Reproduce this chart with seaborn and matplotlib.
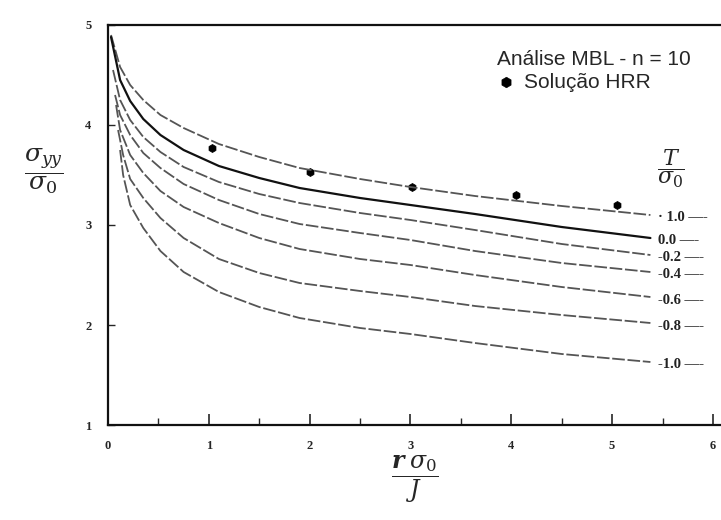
import matplotlib
matplotlib.use('Agg')
import matplotlib.pyplot as plt
import seaborn as sns
import pandas as pd
from matplotlib.ticker import MultipleLocator

# T/sigma0 levels and the curves
levels = ['1.0', '0.0', '-0.2', '-0.4', '-0.6', '-0.8', '-1.0']
# first two points of each curve (they start at slightly different r)
x_near = [[0.03, 0.12], [0.03, 0.12], [0.05, 0.12], [0.07, 0.12],
          [0.08, 0.12], [0.10, 0.15], [0.12, 0.15]]
y_near = [[4.90, 4.58], [4.88, 4.45], [4.55, 4.25], [4.30, 4.10],
          [4.20, 3.95], [3.95, 3.70], [3.75, 3.50]]
x_common = [0.22, 0.35, 0.52, 0.75, 1.1, 1.5, 1.9, 2.5, 3.0, 3.64, 4.5, 5.38]
y_t10 = [4.40, 4.25, 4.10, 3.97, 3.81, 3.68, 3.57, 3.46, 3.38, 3.29, 3.19, 3.10]
y_t00 = [4.24, 4.06, 3.90, 3.75, 3.59, 3.47, 3.37, 3.27, 3.20, 3.11, 2.98, 2.87]
y_tm02 = [4.05, 3.88, 3.73, 3.58, 3.43, 3.31, 3.22, 3.12, 3.05, 2.95, 2.81, 2.70]
y_tm04 = [3.90, 3.72, 3.57, 3.41, 3.25, 3.11, 3.01, 2.92, 2.85, 2.74, 2.62, 2.53]
y_tm06 = [3.70, 3.52, 3.34, 3.18, 3.02, 2.87, 2.76, 2.66, 2.60, 2.50, 2.38, 2.28]
y_tm08 = [3.46, 3.27, 3.07, 2.87, 2.66, 2.52, 2.42, 2.34, 2.28, 2.19, 2.10, 2.02]
y_tm10 = [3.20, 2.97, 2.74, 2.53, 2.33, 2.18, 2.07, 1.97, 1.91, 1.82, 1.71, 1.63]
curves = [y_t10, y_t00, y_tm02, y_tm04, y_tm06, y_tm08, y_tm10]

# HRR solution points
hrr_x = [1.03, 2.0, 3.02, 4.05, 5.05]
hrr_y = [3.77, 3.53, 3.38, 3.30, 3.20]

rows = []
for lev, xn, yn, yv in zip(levels, x_near, y_near, curves):
    for xx, yy in zip(xn + x_common, yn + yv):
        rows.append((lev, xx, yy))
df = pd.DataFrame(rows, columns=['T', 'x', 'y'])
hrr = pd.DataFrame({'x': hrr_x, 'y': hrr_y})

sns.set_style('ticks')
plt.rcParams['font.family'] = ['DejaVu Sans']
plt.rcParams['mathtext.fontset'] = 'dejavuserif'

fig = plt.figure(figsize=(7.21, 5.2), dpi=100)
ax = fig.add_axes([108 / 721, 95 / 520, 613 / 721, 400 / 520])

for lev in levels:
    d = df[df['T'] == lev]
    if lev == '0.0':
        sns.lineplot(data=d, x='x', y='y', ax=ax, color='#111111', lw=1.6,
                     sort=False, estimator=None)
    else:
        sns.lineplot(data=d, x='x', y='y', ax=ax, color='#555555', lw=1.3,
                     sort=False, estimator=None, linestyle=(0, (7, 1.5)))
    ax.text(d['x'].iloc[-1] + 0.08, d['y'].iloc[-1] - 0.03,
            ('· ' if lev == '1.0' else '') + lev + ' —-',
            ha='left', va='center', fontsize=10.5, fontweight='bold',
            family='Liberation Serif', color='#222222')

sns.scatterplot(data=hrr, x='x', y='y', ax=ax, marker='h', s=34,
                color='black', edgecolor='black', label='Solução HRR')

ax.set_xlim(0, 6.08)
ax.set_ylim(1, 5)
ax.xaxis.set_major_locator(MultipleLocator(1))
ax.xaxis.set_minor_locator(MultipleLocator(0.5))
ax.yaxis.set_major_locator(MultipleLocator(1))
ax.tick_params(axis='x', which='major', direction='in', length=8, width=1.2, pad=11)
ax.tick_params(axis='x', which='minor', direction='in', length=5, width=1)
ax.tick_params(axis='y', which='major', direction='in', length=5, width=1, pad=12)
for lab in ax.get_xticklabels() + ax.get_yticklabels():
    lab.set_family('Liberation Serif')
    lab.set_fontweight('bold')
    lab.set_fontsize(9)
ax.spines['right'].set_visible(False)
for s in ['left', 'bottom', 'top']:
    ax.spines[s].set_linewidth(1.6)
    ax.spines[s].set_color('#111111')

ax.set_xlabel(r'$\dfrac{\boldsymbol{r}\;\boldsymbol{\sigma_0}}{J}$', fontsize=17)
ax.set_ylabel(r'$\dfrac{\sigma_{yy}}{\sigma_0}$', fontsize=18, rotation=0,
              va='center')
ax.yaxis.set_label_coords(-0.105, 0.635)
ax.xaxis.set_label_coords(0.5, -0.072)
ax.xaxis.label.set_va('top')

ax.text(5.58, 3.56, r'$\dfrac{T}{\sigma_0}$', fontsize=16, ha='center', va='center')

leg = ax.legend(title='Análise MBL - n = 10', loc='upper right',
                bbox_to_anchor=(0.975, 0.975), frameon=False, alignment='left',
                handletextpad=0.5, handlelength=0.8, borderpad=0.2,
                labelspacing=0.2, markerscale=1.3,
                prop={'family': 'Liberation Sans', 'size': 15})
leg.get_title().set_family('Liberation Sans')
leg.get_title().set_fontsize(15)

fig.savefig('out.png', dpi=100)
